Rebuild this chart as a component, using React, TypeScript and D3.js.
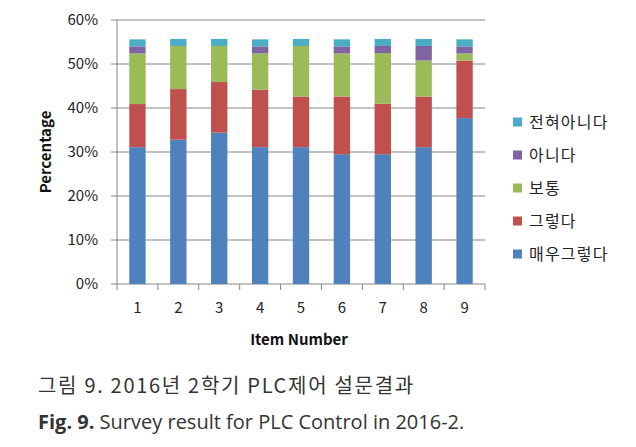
import React from 'react';
import * as d3 from 'd3';

// share of 61 respondents per item, in percent
const items = ['1', '2', '3', '4', '5', '6', '7', '8', '9'];
const veryAgree = [31.1, 32.8, 34.4, 31.1, 31.1, 29.5, 29.5, 31.1, 37.7];
const agree = [9.8, 11.5, 11.5, 13.1, 11.5, 13.1, 11.5, 11.5, 13.1];
const neutral = [11.5, 9.8, 8.2, 8.2, 11.5, 9.8, 11.5, 8.2, 1.6];
const disagree = [1.6, 0, 0, 1.6, 0, 1.6, 1.6, 3.3, 1.6];
const stronglyDisagree = [1.6, 1.6, 1.6, 1.6, 1.6, 1.6, 1.6, 1.6, 1.6];
const yTicks = [0, 10, 20, 30, 40, 50, 60];

const seriesNames = ['매우그렇다', '그렇다', '보통', '아니다', '전혀아니다'];
const seriesValues = [veryAgree, agree, neutral, disagree, stronglyDisagree];
const colors = ['#4F81BD', '#C0504D', '#9BBB59', '#8064A2', '#4BACC6'];

const W = 636;
const H = 447;
const margin = { left: 117, right: 151, top: 20, bottom: 163 };
const font = '"Noto Sans CJK KR", "Noto Sans", sans-serif';

const App = () => {
  const innerW = W - margin.left - margin.right;
  const innerH = H - margin.top - margin.bottom;

  const x = d3.scaleBand().domain(items).range([0, innerW]).paddingInner(0.6).paddingOuter(0.3);
  const band = d3.scaleBand().domain(items).range([0, innerW]);
  const y = d3.scaleLinear().domain([0, 60]).range([innerH, 0]);

  const rows = items.map((it, i) => {
    const row: Record<string, any> = { item: it };
    seriesNames.forEach((s, k) => (row[s] = seriesValues[k][i]));
    return row;
  });
  const stacked = d3.stack().keys(seriesNames)(rows as any);

  const grid = '#868686';

  return (
    <div style={{ position: 'absolute', left: 0, top: 0 }}>
      <svg width={W} height={H} style={{ display: 'block', background: '#fff' }} fontFamily={font}>
        <g transform={`translate(${margin.left},${margin.top})`}>
          {yTicks.map((t) => (
            <g key={t}>
              <line x1={-6} x2={innerW} y1={y(t)} y2={y(t)} stroke={grid} strokeWidth={1} />
              <text x={-19} y={y(t)} dy="0.35em" textAnchor="end" fontSize={15} fill="#222">
                {t}%
              </text>
            </g>
          ))}
          <line x1={0} x2={0} y1={0} y2={innerH} stroke={grid} />
          {items.map((it) => (
            <line key={'t' + it} x1={band(it)!} x2={band(it)!} y1={innerH} y2={innerH + 6} stroke={grid} />
          ))}
          <line x1={innerW} x2={innerW} y1={innerH} y2={innerH + 6} stroke={grid} />
          {stacked.map((s, k) => (
            <g key={s.key} fill={colors[k]}>
              {s.map((d, i) =>
                d[1] - d[0] > 0 ? (
                  <rect
                    key={i}
                    x={x(items[i])!}
                    width={x.bandwidth()}
                    y={y(d[1])}
                    height={y(d[0]) - y(d[1])}
                  />
                ) : null
              )}
            </g>
          ))}
          {items.map((it) => (
            <text
              key={'l' + it}
              x={band(it)! + band.bandwidth() / 2}
              y={innerH + 24}
              dy="0.35em"
              textAnchor="middle"
              fontSize={15}
              fill="#222"
            >
              {it}
            </text>
          ))}
          <text
            x={innerW / 2 - 2}
            y={innerH + 56}
            dy="0.35em"
            textAnchor="middle"
            fontSize={15}
            fontWeight="bold"
            fill="#111"
          >
            Item Number
          </text>
          <text
            transform={`translate(${-71},${innerH / 2}) rotate(-90)`}
            dy="0.35em"
            textAnchor="middle"
            fontSize={15}
            fontWeight="bold"
            fill="#111"
          >
            Percentage
          </text>
        </g>
        <g transform="translate(513,0)">
          {seriesNames
            .slice()
            .reverse()
            .map((name, j) => {
              const k = seriesNames.length - 1 - j;
              const cy = 122 + j * 33;
              return (
                <g key={name}>
                  <rect x={0} y={cy - 4.5} width={9} height={9} fill={colors[k]} />
                  <text x={16} y={cy} dy="0.35em" fontSize={16} letterSpacing={1.2} fill="#222">
                    {name}
                  </text>
                </g>
              );
            })}
        </g>
        <text x={38} y={393} fontSize={20} letterSpacing={1.7} fill="#333">
          그림 9. 2016년 2학기 PLC제어 설문결과
        </text>
        <text x={38} y={429} fontSize={20} fill="#333" fontFamily='"Open Sans", "Noto Sans", sans-serif'>
          <tspan fontWeight="bold">Fig. 9.</tspan> Survey result for PLC Control in 2016-2.
        </text>
      </svg>
    </div>
  );
};

export default App;
